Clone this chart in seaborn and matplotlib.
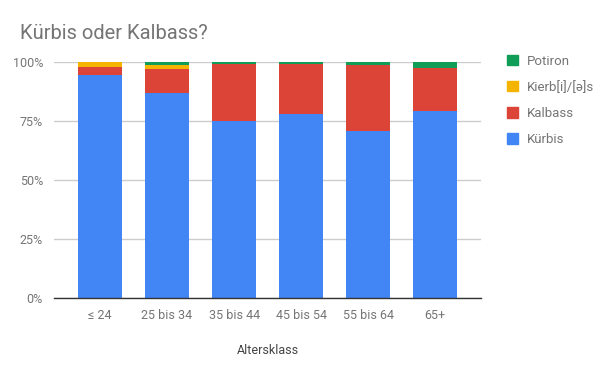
import numpy as np
import pandas as pd
import matplotlib
matplotlib.use('Agg')
import matplotlib.pyplot as plt
import seaborn as sns
from matplotlib.patches import Patch

# Data (percent per age group)
age_groups = ['≤ 24', '25 bis 34', '35 bis 44', '45 bis 54', '55 bis 64', '65+']
kuerbis = [94.5, 86.9, 75.0, 78.0, 70.8, 79.2]
kalbass = [3.5, 10.1, 24.2, 21.2, 27.8, 18.3]
kierb = [2.0, 1.7, 0.0, 0.0, 0.0, 0.0]
potiron = [0.0, 1.3, 0.8, 0.8, 1.4, 2.5]

series_names = ['Kürbis', 'Kalbass', 'Kierb[i]/[ə]s', 'Potiron']
series_vals = [kuerbis, kalbass, kierb, potiron]
colors = ['#4285F4', '#DB4437', '#F4B400', '#0F9D58']

sns.set_style('white')
plt.rcParams['font.family'] = ['Roboto', 'DejaVu Sans']

fig = plt.figure(figsize=(6, 3.71), dpi=100)
ax = fig.add_axes([0.09, 0.197, 0.712, 0.636])

# stacked bars: draw cumulative totals, tallest first
cum = np.cumsum(np.array(series_vals), axis=0)
for i in range(len(series_names) - 1, -1, -1):
    df = pd.DataFrame({'age': age_groups, 'val': cum[i]})
    sns.barplot(data=df, x='age', y='val', color=colors[i], width=0.655,
                saturation=1, linewidth=0, edgecolor='none', ax=ax, zorder=2)

ax.set_ylim(0, 100)
ax.set_xlim(-0.685, 5.685)
ax.set_yticks([0, 25, 50, 75, 100])
ax.set_yticklabels(['0%', '25%', '50%', '75%', '100%'])
ax.yaxis.grid(True, color='#cccccc', linewidth=1, zorder=0)
ax.set_axisbelow(True)
for s in ['top', 'right', 'left']:
    ax.spines[s].set_visible(False)
ax.spines['bottom'].set_color('#333333')
ax.spines['bottom'].set_linewidth(1)
ax.spines['bottom'].set_zorder(3)
ax.tick_params(axis='both', length=0, labelsize=9, colors='#757575', pad=8)
ax.set_ylabel('')
ax.set_xlabel('Altersklass', fontsize=9, color='#444444', labelpad=16)

fig.text(0.033, 0.91, 'Kürbis oder Kalbass?', fontsize=14.5, color='#757575',
         va='center', ha='left')

handles = [Patch(facecolor=colors[i], edgecolor=colors[i], label=series_names[i])
           for i in range(len(series_names) - 1, -1, -1)]
leg = fig.legend(handles=handles, loc='upper left', bbox_to_anchor=(0.825, 0.885),
                 frameon=False, fontsize=9.5, handlelength=0.85, handleheight=0.85,
                 handletextpad=0.7, labelspacing=1.0)
for t in leg.get_texts():
    t.set_color('#757575')

fig.savefig('out.png', dpi=100)
